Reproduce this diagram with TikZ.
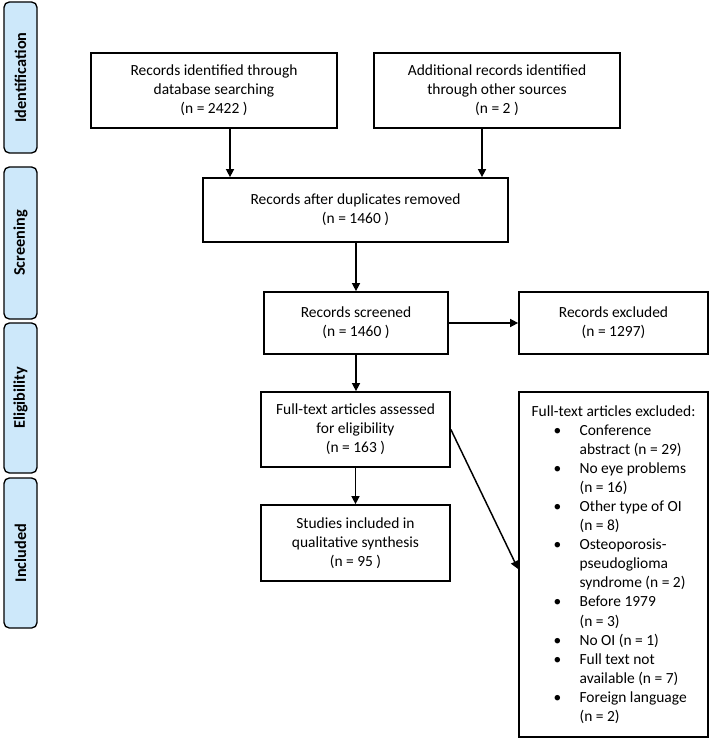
\documentclass[tikz,border=0pt]{standalone}
\usepackage{fontspec}
\setmainfont{Carlito}
\usetikzlibrary{arrows.meta}

\definecolor{sidefill}{RGB}{205,232,250}
\newcommand{\bul}{\hspace*{16.5pt}\makebox[19.5pt][l]{\textbullet}}
\newcommand{\ind}{\hspace*{36pt}}

\begin{document}
\begin{tikzpicture}[x=0.75pt,y=0.75pt,yscale=-1,xscale=1,
  every node/.style={font=\fontsize{11.6}{14.3}\selectfont},
  stepbox/.style={draw,line width=1.3pt,align=center,inner sep=2pt},
  phase/.style={draw,line width=1pt,fill=sidefill,rounded corners=4pt,rotate=90,
    minimum height=24.75pt,font=\fontsize{12.2}{14}\selectfont\bfseries},
  arr/.style={line width=1.1pt,-{Triangle[length=6pt,width=6pt]}}]
\useasboundingbox (0,0) rectangle (709,741);

% Phase bars
\node[phase,minimum width=113.25pt] (ident) at (20.5,77.5) {Identification};
\node[phase,minimum width=114pt] (screen) at (20.5,243) {Screening};
\node[phase,minimum width=112.5pt] (elig) at (20.5,398) {Eligibility};
\node[phase,minimum width=112.5pt] (incl) at (20.5,553) {Included};

% Boxes
\node[stepbox,minimum width=184.5pt,minimum height=56.25pt] (dbsearch) at (214,90.5)
  {Records identified through\\database searching\\(n = 2422 )};
\node[stepbox,minimum width=184.5pt,minimum height=56.25pt] (othersrc) at (497,90.5)
  {Additional records identified\\through other sources\\(n = 2 )};
\node[stepbox,minimum width=228.75pt,minimum height=48pt] (dupl) at (355.5,210)
  {Records after duplicates removed\\(n = 1460 )};
\node[stepbox,minimum width=138pt,minimum height=46.5pt] (screened) at (356,323)
  {Records screened\\(n = 1460 )};
\node[stepbox,minimum width=141.75pt,minimum height=46.5pt] (excluded) at (613.5,323)
  {Records excluded\\(n = 1297)};
\node[stepbox,minimum width=141.75pt,minimum height=56.25pt] (fulltext) at (355.5,429.5)
  {Full-text articles assessed\\for eligibility\\(n = 163 )};
\node[stepbox,minimum width=141.75pt,minimum height=57pt] (included) at (355.5,543)
  {Studies included in\\qualitative synthesis\\(n = 95 )};
\node[stepbox,align=left,minimum width=141.75pt,minimum height=258.75pt] (ftexcl) at (613.5,564.5)
  {Full-text articles excluded:\\
   \bul Conference\\
   \ind abstract (n = 29)\\
   \bul No eye problems\\
   \ind (n = 16)\\
   \bul Other type of OI\\
   \ind (n = 8)\\
   \bul Osteoporosis-\\
   \ind pseudoglioma\\
   \ind syndrome (n = 2)\\
   \bul Before 1979\\
   \ind (n = 3)\\
   \bul No OI (n = 1)\\
   \bul Full text not\\
   \ind available (n = 7)\\
   \bul Foreign language\\
   \ind (n = 2)};

% Arrows
\draw[arr] ([xshift=12pt]dbsearch.south) -- ([xshift=12pt]dbsearch.south |- dupl.north);
\draw[arr] ([xshift=-11.25pt]othersrc.south) -- ([xshift=-11.25pt]othersrc.south |- dupl.north);
\draw[arr] (screened.north |- dupl.south) -- (screened.north);
\draw[arr] (screened) -- (excluded);
\draw[arr] (screened.south) -- (screened.south |- fulltext.north);
\draw[arr] (fulltext) -- (included);
\draw[arr] (fulltext.east) -- ([yshift=3.4pt]ftexcl.west);

\end{tikzpicture}
\end{document}
